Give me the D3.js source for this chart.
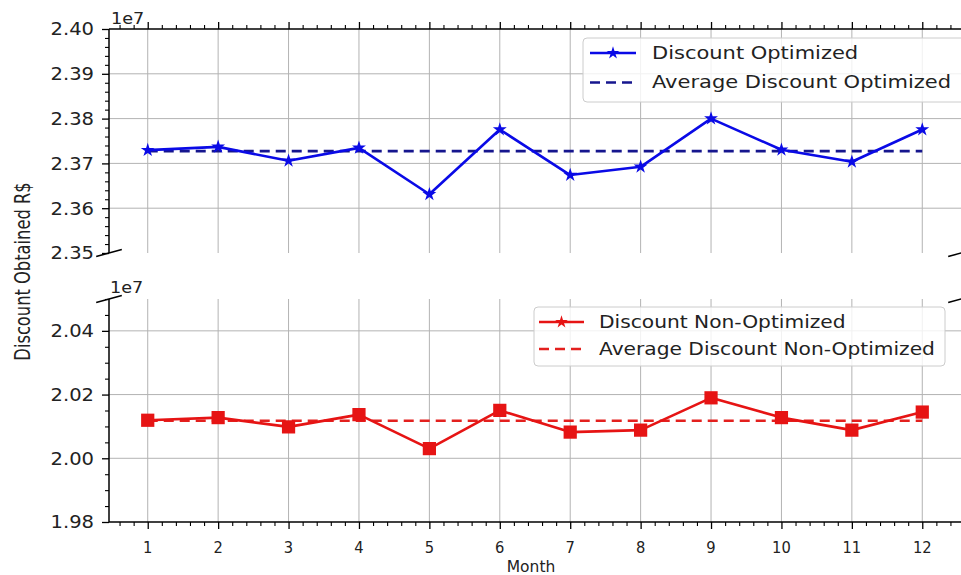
<!DOCTYPE html>
<html><head><meta charset="utf-8">
<script src="https://cdn.jsdelivr.net/npm/d3@7"></script>
<style>body{margin:0;background:#fff}svg{display:block}text{font-family:"DejaVu Sans",sans-serif;fill:#222}</style>
</head><body><svg id="c" width="961" height="575"></svg>
<script>
// ---- data ----
const months = [1,2,3,4,5,6,7,8,9,10,11,12];
const discountOptimized = [23729600, 23736900, 23705800, 23734700, 23631100, 23775600, 23674000, 23692400, 23800000, 23730400, 23703600, 23775600];
const discountNonOptimized = [20119400, 20127700, 20098600, 20137000, 20030400, 20150400, 20082200, 20088400, 20189800, 20127700, 20088400, 20145100];
const avgOptimized = 23727300;
const avgNonOptimized = 20117800;
const topTicks = [2.35e7, 2.36e7, 2.37e7, 2.38e7, 2.39e7, 2.40e7];
const bottomTicks = [1.98e7, 2.00e7, 2.02e7, 2.04e7];
const xTickLabels = months.map(String);
const seriesLabels = ["Discount Optimized", "Average Discount Optimized", "Discount Non-Optimized", "Average Discount Non-Optimized"];
const offsetLabel = "1e7";
const yLabel = "Discount Obtained R$";
const xLabel = "Month";

// ---- layout ----
const svg = d3.select("#c");
const L = 109, R = 961;
const x = d3.scaleLinear().domain([0.45, 12.55]).range([L, R]);
const yTop = d3.scaleLinear().domain([2.35e7, 2.40e7]).range([253, 29]);
const yBot = d3.scaleLinear().domain([1.98e7, 2.05e7]).range([522, 299]);

const blue = "#0a0ae6", navy = "#16168e", red = "#e61414", red2 = "#e3201e";
const grid = "#b3b3b3";

function txt(g, s, tx, ty, size, sx, anchor, extra) {
  return g.append("text")
    .attr("transform", `translate(${tx},${ty}) scale(${sx},1)` + (extra || ""))
    .attr("font-size", size).attr("text-anchor", anchor || "start").text(s);
}
function range(a, b, step) { const out = []; for (let v = a; v <= b + step * 1e-6; v += step) out.push(+v.toFixed(6)); return out; }

const minorX = range(0.6, 12.4, 0.2).filter(v => Math.abs(v - Math.round(v)) > 1e-6);
const minorTop = range(2.35e7, 2.40e7, 0.002e7).filter(v => !topTicks.some(t => Math.abs(t - v) < 1));
const minorBot = range(1.98e7, 2.05e7, 0.005e7).filter(v => !bottomTicks.some(t => Math.abs(t - v) < 1));

function panel(y, ticks, minor, opts) {
  const g = svg.append("g");
  const [yb, yt] = y.range();
  // grid
  g.append("g").selectAll("line").data(months).join("line")
    .attr("x1", d => x(d)).attr("x2", d => x(d)).attr("y1", yt).attr("y2", yb)
    .attr("stroke", grid).attr("stroke-width", 1);
  g.append("g").selectAll("line").data(ticks.filter(t => y(t) > yt + 1 && y(t) < yb - 1)).join("line")
    .attr("x1", L).attr("x2", R).attr("y1", d => y(d)).attr("y2", d => y(d))
    .attr("stroke", grid).attr("stroke-width", 1);
  // y axis
  const ya = g.append("g").attr("transform", `translate(${L},0)`);
  ya.call(d3.axisLeft(y).tickValues(ticks).tickSize(7).tickFormat(""));
  ya.call(gg => gg.select(".domain").remove());
  ya.selectAll(".tick line").attr("stroke", "#000").attr("stroke-width", 1.3);
  const ym = g.append("g").attr("transform", `translate(${L},0)`);
  ym.call(d3.axisLeft(y).tickValues(minor).tickSize(4).tickFormat(""));
  ym.call(gg => gg.select(".domain").remove());
  ym.selectAll(".tick line").attr("stroke", "#000").attr("stroke-width", 1.1);
  ticks.forEach(t => txt(g, (t / 1e7).toFixed(2), L - 15, y(t) + 6.3, 17.3, 1.13, "end"));
  // left spine
  g.append("line").attr("x1", L).attr("x2", L).attr("y1", yt).attr("y2", yb).attr("stroke", "#000").attr("stroke-width", 1.5);
  // x axis (top or bottom)
  const xa = g.append("g").attr("transform", `translate(0,${opts.xAxisY})`);
  const axFn = opts.xTop ? d3.axisTop : d3.axisBottom;
  xa.call(axFn(x).tickValues(months).tickSize(7).tickFormat(""));
  xa.select(".domain").attr("stroke", "#000").attr("stroke-width", 1.5).attr("d", `M${L},0H${R}`);
  xa.selectAll(".tick line").attr("stroke", "#000").attr("stroke-width", 1.3);
  const xm = g.append("g").attr("transform", `translate(0,${opts.xAxisY})`);
  xm.call(axFn(x).tickValues(minorX).tickSize(4).tickFormat(""));
  xm.call(gg => gg.select(".domain").remove());
  xm.selectAll(".tick line").attr("stroke", "#000").attr("stroke-width", 1.1);
  return g;
}

const gTop = panel(yTop, topTicks, minorTop, { xTop: true, xAxisY: 29 });
const gBot = panel(yBot, bottomTicks, minorBot, { xTop: false, xAxisY: 522 });

// offset texts
txt(gTop, offsetLabel, 111, 24, 16, 1.1, "start");
txt(gBot, offsetLabel, 110, 293, 16, 1.1, "start");

// x tick labels
months.forEach((m, i) => txt(gBot, xTickLabels[i], x(m), 553, 15.5, 0.95, "middle"));
txt(svg, xLabel, 531, 572, 15.5, 1.0, "middle");
txt(svg, yLabel, 29.5, 271.5, 16.3, 1.25, "middle", " rotate(-90)");

// break marks
function brk(cx, cy) {
  svg.append("line").attr("x1", cx - 12.8).attr("y1", cy + 3.4).attr("x2", cx + 12.8).attr("y2", cy - 3.4)
    .attr("stroke", "#000").attr("stroke-width", 1.6);
}
brk(L, 253); brk(R, 253); brk(L, 299); brk(R, 299);

// series
const line = y => d3.line().x((d, i) => x(months[i])).y(d => y(d));
function drawSeries(g, y, vals, avg, color, avgColor, symType, symSize) {
  g.append("path").datum(months.map(() => avg)).attr("d", line(y))
    .attr("fill", "none").attr("stroke", avgColor).attr("stroke-width", 2.6).attr("stroke-dasharray", "10,6");
  g.append("path").datum(vals).attr("d", line(y))
    .attr("fill", "none").attr("stroke", color).attr("stroke-width", 2.6).attr("stroke-linejoin", "round");
  g.append("g").selectAll("path").data(vals).join("path")
    .attr("transform", (d, i) => `translate(${x(months[i])},${y(d)})`)
    .attr("d", d3.symbol(symType, symSize)).attr("fill", color);
}
drawSeries(gTop, yTop, discountOptimized, avgOptimized, blue, navy, d3.symbolStar, 60);
drawSeries(gBot, yBot, discountNonOptimized, avgNonOptimized, red, red2, d3.symbolSquare, 175);

// legends
function legend(bx, by, bw, bh, hx1, hx2, rows, tx, sx, color, avgColor, labels) {
  const g = svg.append("g");
  g.append("rect").attr("x", bx).attr("y", by).attr("width", bw).attr("height", bh).attr("rx", 4)
    .attr("fill", "#fff").attr("fill-opacity", 0.82).attr("stroke", "#cccccc").attr("stroke-width", 1);
  g.append("line").attr("x1", hx1).attr("x2", hx2).attr("y1", rows[0].ly).attr("y2", rows[0].ly)
    .attr("stroke", color).attr("stroke-width", 2.6);
  g.append("path").attr("transform", `translate(${(hx1 + hx2) / 2},${rows[0].ly})`)
    .attr("d", d3.symbol(d3.symbolStar, 50)).attr("fill", color);
  g.append("line").attr("x1", hx1).attr("x2", hx2).attr("y1", rows[1].ly).attr("y2", rows[1].ly)
    .attr("stroke", avgColor).attr("stroke-width", 2.6).attr("stroke-dasharray", "10,6");
  rows.forEach((r, i) => txt(g, labels[i], tx, r.by, 17.5, sx, "start"));
}
legend(583, 38, 382, 64, 590, 636, [{ ly: 53, by: 59 }, { ly: 82.5, by: 88 }], 652, 1.2, blue, navy, seriesLabels.slice(0, 2));
legend(534, 307, 411, 59, 539, 584, [{ ly: 322, by: 327.5 }, { ly: 349, by: 355 }], 599, 1.155, red, red2, seriesLabels.slice(2, 4));
</script>
</body></html>
